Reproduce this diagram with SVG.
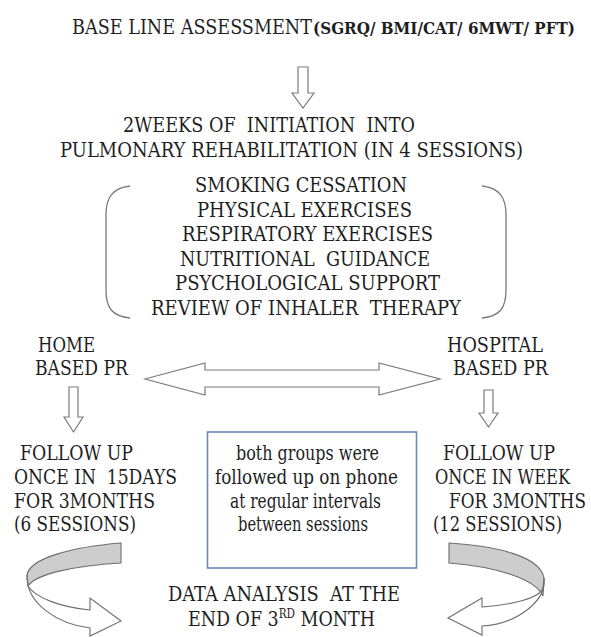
<svg xmlns="http://www.w3.org/2000/svg" width="591" height="637" viewBox="0 0 591 637">
<style>
text{font-family:'DejaVu Serif','Liberation Serif',serif;font-stretch:condensed;font-size:20px;fill:#1e1e1e;white-space:pre}
.b{font-weight:bold;font-size:17px}
.sup{font-size:12px}
.arr{fill:#fff;stroke:#7a7a7a;stroke-width:1.2;stroke-linejoin:miter}
.br{fill:none;stroke:#7a7a7a;stroke-width:1.3}
.gray{fill:#cdcdcd;stroke:#6e6e6e;stroke-width:1.1}
.wb{fill:#fff;stroke:#6e6e6e;stroke-width:1.1}
.box{fill:#fff;stroke:#6f88b8;stroke-width:1.6}
</style>
<rect width="591" height="637" fill="#fff"/>
<g id="baseline">
<text x="72" y="34" textLength="240" lengthAdjust="spacingAndGlyphs">BASE LINE ASSESSMENT</text>
<text class="b" x="313" y="34" textLength="262" lengthAdjust="spacingAndGlyphs">(SGRQ/ BMI/CAT/ 6MWT/ PFT)</text>
</g>
<g id="initiation">
<text x="123" y="132" textLength="292" lengthAdjust="spacingAndGlyphs">2WEEKS OF  INITIATION  INTO</text>
<text x="60" y="157" textLength="463" lengthAdjust="spacingAndGlyphs">PULMONARY REHABILITATION (IN 4 SESSIONS)</text>
</g>
<g id="components">
<path class="br" d="M130,186 C112,188 106,198 106,215 L106,290 C106,308 112,316 130,318"/>
<path class="br" d="M482,186 C500,188 506,198 506,215 L506,290 C506,308 500,316 482,318"/>
<text x="195" y="192" textLength="212" lengthAdjust="spacingAndGlyphs">SMOKING CESSATION</text>
<text x="197" y="216.5" textLength="215" lengthAdjust="spacingAndGlyphs">PHYSICAL EXERCISES</text>
<text x="182" y="241" textLength="251" lengthAdjust="spacingAndGlyphs">RESPIRATORY EXERCISES</text>
<text x="180" y="265.5" textLength="250" lengthAdjust="spacingAndGlyphs">NUTRITIONAL  GUIDANCE</text>
<text x="175" y="290" textLength="265" lengthAdjust="spacingAndGlyphs">PSYCHOLOGICAL SUPPORT</text>
<text x="151" y="314.5" textLength="310" lengthAdjust="spacingAndGlyphs">REVIEW OF INHALER  THERAPY</text>
</g>
<g id="home">
<text x="38" y="352" textLength="57" lengthAdjust="spacingAndGlyphs">HOME</text>
<text x="35" y="375" textLength="93" lengthAdjust="spacingAndGlyphs">BASED PR</text>
</g>
<g id="hospital">
<text x="447" y="352" textLength="96" lengthAdjust="spacingAndGlyphs">HOSPITAL</text>
<text x="453" y="375" textLength="95" lengthAdjust="spacingAndGlyphs">BASED PR</text>
</g>
<g id="followup-home">
<text x="20" y="460" textLength="113" lengthAdjust="spacingAndGlyphs">FOLLOW UP</text>
<text x="14" y="484" textLength="163" lengthAdjust="spacingAndGlyphs">ONCE IN  15DAYS</text>
<text x="14" y="508" textLength="141" lengthAdjust="spacingAndGlyphs">FOR 3MONTHS</text>
<text x="14" y="531" textLength="122" lengthAdjust="spacingAndGlyphs">(6 SESSIONS)</text>
</g>
<g id="phone-note">
<rect class="box" x="207.5" y="432" width="209" height="136"/>
<text x="236" y="460" textLength="143" lengthAdjust="spacingAndGlyphs">both groups were</text>
<text x="215" y="484" textLength="183" lengthAdjust="spacingAndGlyphs">followed up on phone</text>
<text x="230" y="508" textLength="151" lengthAdjust="spacingAndGlyphs">at regular intervals</text>
<text x="238" y="531" textLength="130" lengthAdjust="spacingAndGlyphs">between sessions</text>
</g>
<g id="followup-hospital">
<text x="443" y="460" textLength="112" lengthAdjust="spacingAndGlyphs">FOLLOW UP</text>
<text x="435" y="484" textLength="135" lengthAdjust="spacingAndGlyphs">ONCE IN WEEK</text>
<text x="449" y="508" textLength="137" lengthAdjust="spacingAndGlyphs">FOR 3MONTHS</text>
<text x="433" y="531" textLength="129" lengthAdjust="spacingAndGlyphs">(12 SESSIONS)</text>
</g>
<g id="analysis">
<text x="168" y="601" textLength="232" lengthAdjust="spacingAndGlyphs">DATA ANALYSIS  AT THE</text>
<text x="188" y="626" textLength="187" lengthAdjust="spacingAndGlyphs">END OF 3<tspan class="sup" dy="-8">RD</tspan><tspan dy="8"> MONTH</tspan></text>
</g>
<g id="connectors">
<path class="arr" d="M298,67 L308,67 L308,93 L314,93 L303,108 L292,93 L298,93 Z"/>
<path class="arr" d="M145,379 L205,363 L205,370 L379,370 L379,363 L440,379 L379,395 L379,387 L205,387 L205,395 Z"/>
<path class="arr" d="M69,387 L78,387 L78,417 L83,417 L73.5,432 L64,417 L69,417 Z"/>
<path class="arr" d="M484,390 L493,390 L493,413 L498,413 L488.5,427 L479,413 L484,413 Z"/>
<path class="gray" d="M121,543 C72,547 30,558 27,575 L28,586 C36,574 72,566 121,563 Z"/>
<path class="wb" d="M27,575 C26,604 58,624 90,628 L90,636 L121,621 L90,598 L90,610 C60,607 36,598 28,586 Z"/>
<path class="gray" d="M449,543 C496,546 540,556 544,578 L543,596 C536,580 500,567 449,563 Z"/>
<path class="wb" d="M544,578 C547,600 518,624 482,626 L482,635 L448,618 L482,598 L482,607 C512,605 540,598 543,588 Z"/>
</g>
</svg>
